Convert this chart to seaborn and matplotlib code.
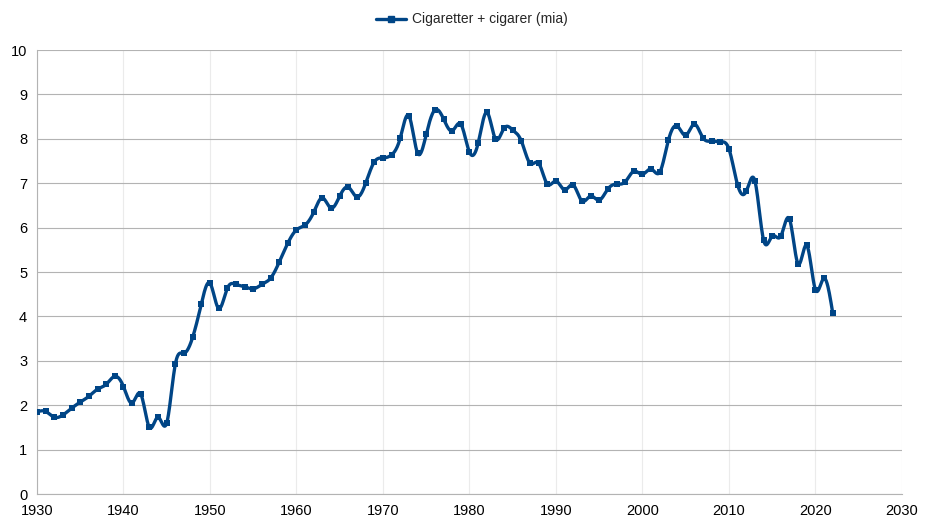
"""
Cigaretter + cigarer (mia), 1930-2022, redrawn as a smoothed line chart.
"""
import numpy as np
import pandas as pd
import matplotlib
matplotlib.use("Agg")
import matplotlib.pyplot as plt
import seaborn as sns

sns.set_theme(style="white")
plt.rcParams["font.family"] = ["Liberation Sans", "DejaVu Sans"]

# ---------- data ----------
years = list(range(1930, 2023))
values = [
    1.85, 1.86, 1.73, 1.78, 1.93, 2.07, 2.20, 2.36, 2.47, 2.65,   # 1930-39
    2.42, 2.05, 2.25, 1.50, 1.73, 1.60, 2.93, 3.17, 3.53, 4.28,   # 1940-49
    4.75, 4.18, 4.63, 4.72, 4.67, 4.62, 4.72, 4.86, 5.22, 5.65,   # 1950-59
    5.95, 6.06, 6.35, 6.67, 6.44, 6.71, 6.91, 6.69, 7.00, 7.48,   # 1960-69
    7.57, 7.64, 8.02, 8.52, 7.68, 8.10, 8.65, 8.45, 8.18, 8.33,   # 1970-79
    7.70, 7.90, 8.60, 8.00, 8.24, 8.20, 7.95, 7.45, 7.45, 6.98,   # 1980-89
    7.05, 6.85, 6.96, 6.60, 6.71, 6.62, 6.87, 6.98, 7.03, 7.27,   # 1990-99
    7.20, 7.32, 7.25, 7.97, 8.29, 8.08, 8.33, 8.02, 7.95, 7.93,   # 2000-09
    7.77, 6.96, 6.82, 7.05, 5.72, 5.81, 5.81, 6.19, 5.18, 5.60,   # 2010-19
    4.60, 4.86, 4.07,                                             # 2020-22
]
label = "Cigaretter + cigarer (mia)"
x_ticks = list(range(1930, 2031, 10))
y_ticks = list(range(0, 11))

df = pd.DataFrame({"year": years, "value": values})


def natural_spline(x, y, n=20):
    # natural cubic spline through the data points, for the smooth line only
    x = np.asarray(x, float)
    y = np.asarray(y, float)
    h = np.diff(x)
    m = len(x)
    A = np.zeros((m, m))
    r = np.zeros(m)
    A[0, 0] = A[-1, -1] = 1
    for i in range(1, m - 1):
        A[i, i - 1] = h[i - 1]
        A[i, i] = 2 * (h[i - 1] + h[i])
        A[i, i + 1] = h[i]
        r[i] = 3 * ((y[i + 1] - y[i]) / h[i] - (y[i] - y[i - 1]) / h[i - 1])
    c = np.linalg.solve(A, r)
    xs, ys = [], []
    for i in range(m - 1):
        b = (y[i + 1] - y[i]) / h[i] - h[i] * (2 * c[i] + c[i + 1]) / 3
        d = (c[i + 1] - c[i]) / (3 * h[i])
        t = np.linspace(0, h[i], n, endpoint=False)
        xs.append(x[i] + t)
        ys.append(y[i] + b * t + c[i] * t ** 2 + d * t ** 3)
    xs.append([x[-1]])
    ys.append([y[-1]])
    return np.concatenate(xs), np.concatenate(ys)


sx, sy = natural_spline(df["year"], df["value"])
smooth = pd.DataFrame({"year": sx, "value": sy})

# ---------- plot ----------
color = "#004586"
fig = plt.figure(figsize=(9.43, 5.30), dpi=100)
ax = fig.add_axes([0.0392, 0.0679, 0.9173, 0.8377])

sns.lineplot(data=smooth, x="year", y="value", ax=ax, color=color,
             linewidth=2.4, zorder=3)
sns.scatterplot(data=df, x="year", y="value", ax=ax, color=color,
                marker="s", s=14, edgecolor=color, linewidth=0, zorder=4)

ax.set_xlim(1930, 2030)
ax.set_ylim(0, 10)
ax.set_xticks(x_ticks)
ax.set_yticks(y_ticks)
ax.set_xlabel("")
ax.set_ylabel("")

ax.xaxis.grid(True, color="#ebebeb", linewidth=0.8)
ax.yaxis.grid(True, color="#b3b3b3", linewidth=0.8)
ax.set_axisbelow(True)
for side in ["top", "right"]:
    ax.spines[side].set_visible(False)
for side in ["left", "bottom"]:
    ax.spines[side].set_color("#b3b3b3")
    ax.spines[side].set_linewidth(0.8)
ax.tick_params(axis="both", direction="out", length=4, width=0.8,
               color="#b3b3b3", labelsize=10.5, labelcolor="black", pad=3)

handle = plt.Line2D([], [], color=color, linewidth=2.4, marker="s",
                    markersize=5)
fig.legend([handle], [label], loc="upper center", bbox_to_anchor=(0.5, 1.0),
           frameon=False, fontsize=10, handlelength=2.2, handletextpad=0.4)

fig.savefig("out.png", dpi=100)
